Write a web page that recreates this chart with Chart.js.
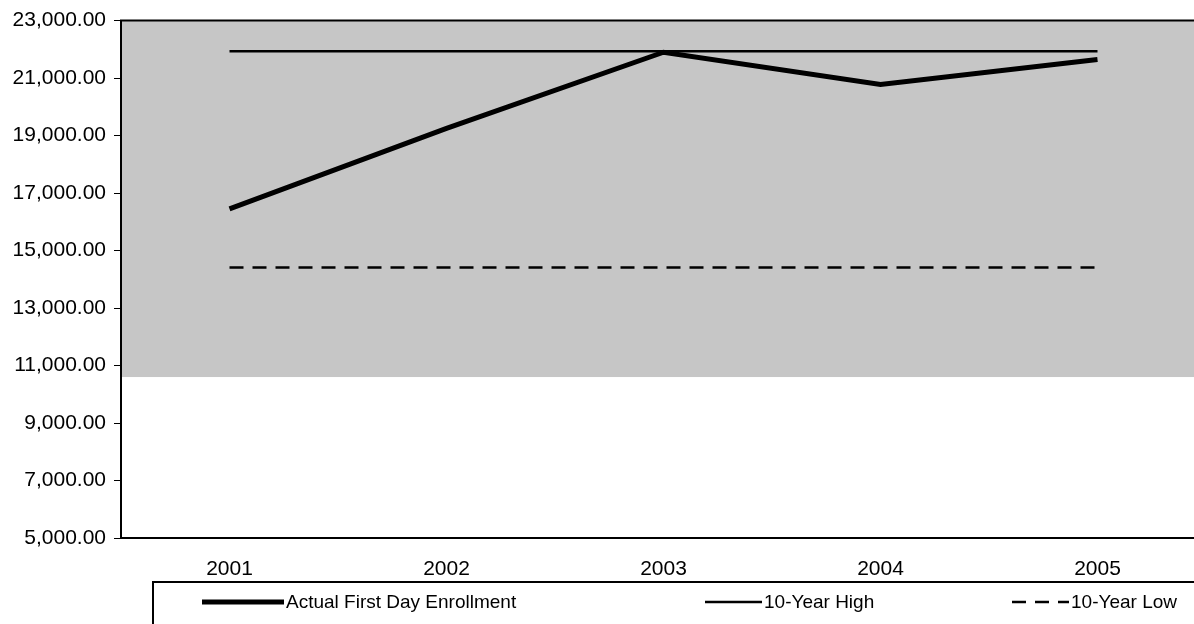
<!DOCTYPE html>
<html>
<head>
<meta charset="utf-8">
<script src="https://cdn.jsdelivr.net/npm/chart.js@4.4.1/dist/chart.umd.min.js"></script>
<style>
    html, body { margin: 0; padding: 0; background: #fff; }
    #wrap { position: relative; width: 1194px; height: 624px; overflow: hidden; }
    #box { position: absolute; left: 0; top: 0; width: 1215px; height: 624px; }
    #legend {
        position: absolute; left: 152px; top: 581px; width: 1080px; height: 60px;
        border: 2px solid #000; box-sizing: border-box;
        font-family: "Liberation Sans", Arial, sans-serif; font-size: 19px; color: #000;
    }
    .item { position: absolute; top: 8px; display: flex; align-items: center; height: 22px; white-space: nowrap; }
    .item svg { margin-right: 2px; }
</style>
</head>
<body>
<div id="wrap">
    <div id="box"><canvas id="myChart"></canvas></div>
    <div id="legend"></div>
</div>
<script>
// data
var years = ["2001", "2002", "2003", "2004", "2005"];
var actualEnrollment = [16450, 19250, 21900, 20780, 21650];
var tenYearHigh = [21930, 21930, 21930, 21930, 21930];
var tenYearLow = [14410, 14410, 14410, 14410, 14410];
var yMin = 5000;
var yMax = 23000;
var yStep = 2000;
var shadeTop = 10600; // shaded band in the plot goes down to about here

var fontFamily = "'Liberation Sans', Arial, sans-serif";

// grey fill behind the axes, top frame line on top
var plotBackground = {
    id: "plotBackground",
    beforeDraw: function (chart) {
        var ctx = chart.ctx;
        var a = chart.chartArea;
        var yEdge = chart.scales.y.getPixelForValue(shadeTop);
        ctx.save();
        ctx.fillStyle = "#c6c6c6";
        ctx.fillRect(a.left, a.top, a.right - a.left, yEdge - a.top);
        ctx.restore();
    },
    afterDraw: function (chart) {
        var ctx = chart.ctx;
        var a = chart.chartArea;
        ctx.save();
        ctx.strokeStyle = "#000";
        ctx.lineWidth = 2;
        ctx.beginPath();
        ctx.moveTo(a.left - 1, a.top);
        ctx.lineTo(a.right, a.top);
        ctx.stroke();
        ctx.restore();
    }
};

var ctxEl = document.getElementById("myChart");
var myChart = new Chart(ctxEl, {
    type: "line",
    data: {
        labels: years,
        datasets: [{
            label: "Actual First Day Enrollment",
            data: actualEnrollment,
            borderColor: "#000",
            borderWidth: 5,
            pointRadius: 0,
            tension: 0
        }, {
            label: "10-Year High",
            data: tenYearHigh,
            borderColor: "#000",
            borderWidth: 2.5,
            pointRadius: 0
        }, {
            label: "10-Year Low",
            data: tenYearLow,
            borderColor: "#000",
            borderWidth: 2.5,
            borderDash: [14, 9],
            pointRadius: 0
        }]
    },
    options: {
        responsive: true,
        maintainAspectRatio: false,
        animation: false,
        layout: { padding: { top: 16, right: 9, bottom: 41, left: 0 } },
        plugins: {
            legend: { display: false },
            tooltip: { enabled: false }
        },
        scales: {
            x: {
                offset: true,
                grid: { drawOnChartArea: false, drawTicks: false },
                border: { color: "#000", width: 2 },
                ticks: { color: "#000", padding: 19, font: { family: fontFamily, size: 21 } },
                afterFit: function (s) { s.height = 45; }
            },
            y: {
                min: yMin,
                max: yMax,
                grid: { drawOnChartArea: false, drawTicks: true, tickLength: 7, color: "#000" },
                border: { color: "#000", width: 2 },
                ticks: {
                    stepSize: yStep,
                    color: "#000",
                    padding: 8,
                    font: { family: fontFamily, size: 21 },
                    callback: function (v) {
                        return v.toLocaleString("en-US", { minimumFractionDigits: 2, maximumFractionDigits: 2 });
                    }
                },
                afterFit: function (s) { s.width = 121; }
            }
        }
    },
    plugins: [plotBackground]
});

// html legend, built from the datasets
var legendX = [48, 551, 858];
var sampleW = [82, 57, 57];
var legendEl = document.getElementById("legend");
myChart.data.datasets.forEach(function (ds, i) {
    var item = document.createElement("div");
    item.className = "item";
    item.style.left = legendX[i] + "px";
    var dash = ds.borderDash ? ' stroke-dasharray="' + ds.borderDash.join(",") + '"' : "";
    item.innerHTML = '<svg width="' + sampleW[i] + '" height="10"><line x1="0" y1="5" x2="' + sampleW[i] +
        '" y2="5" stroke="#000" stroke-width="' + ds.borderWidth + '"' + dash + '/></svg><span>' + ds.label + '</span>';
    legendEl.appendChild(item);
});
</script>
</body>
</html>
